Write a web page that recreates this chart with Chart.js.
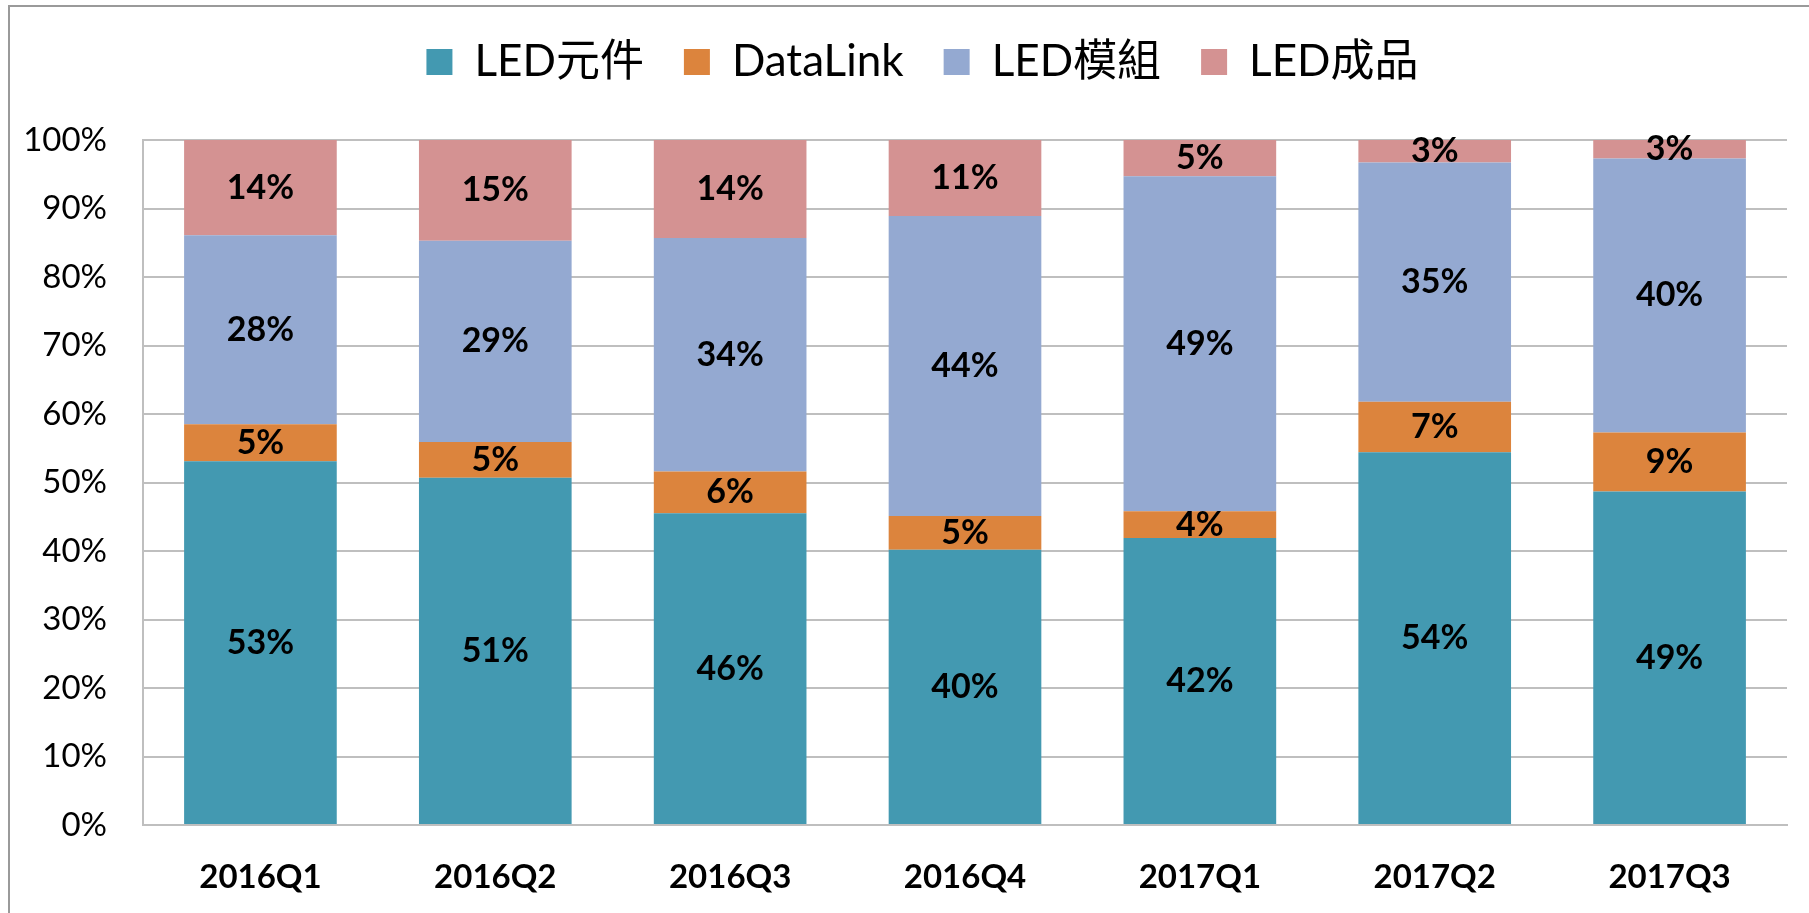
<!DOCTYPE html>
<html>
<head>
<meta charset="utf-8">
<script src="https://cdn.jsdelivr.net/npm/chart.js@4.4.1/dist/chart.umd.min.js"></script>
<style>
  body { margin: 0; background: #fff; }
  #wrap { position: relative; width: 1809px; height: 913px; }
  #frame { position: absolute; left: 8px; top: 5px; right: -10px; bottom: -10px;
           border-left: 2px solid #9a9a9a; border-top: 2px solid #9a9a9a; pointer-events: none; }
</style>
</head>
<body>
<div id="wrap">
  <canvas id="myChart" width="1809" height="913"></canvas>
  <div id="frame"></div>
</div>
<script>
// 季度
var quarters = ['2016Q1', '2016Q2', '2016Q3', '2016Q4', '2017Q1', '2017Q2', '2017Q3'];
// 各產品線佔比 (%)
var ledComponent = [53.1, 50.7, 45.5, 40.2, 41.9, 54.4, 48.7];
var dataLink     = [5.4, 5.2, 6.1, 4.9, 3.9, 7.4, 8.6];
var ledModule    = [27.6, 29.4, 34.1, 43.8, 48.9, 34.9, 40.0];
var ledProduct   = [13.9, 14.7, 14.3, 11.1, 5.3, 3.3, 2.7];
var yTicks = [0, 10, 20, 30, 40, 50, 60, 70, 80, 90, 100];

var fontFamily = 'Lato, "Noto Sans CJK TC", sans-serif';

// 在每個區塊中間畫百分比
var barLabels = {
    id: 'barLabels',
    afterDatasetsDraw: function(chart) {
        var ctx = chart.ctx;
        ctx.save();
        ctx.font = 'bold 34px ' + fontFamily;
        ctx.fillStyle = '#000';
        ctx.textAlign = 'center';
        ctx.textBaseline = 'middle';
        chart.data.datasets.forEach(function(ds, i) {
            var meta = chart.getDatasetMeta(i);
            meta.data.forEach(function(el, j) {
                var p = el.getProps(['x', 'y', 'base'], true);
                ctx.fillText(Math.round(ds.data[j]) + '%', p.x, (p.y + p.base) / 2);
            });
        });
        ctx.restore();
    }
};

// 圖例下方多留一點空白，並稍微往右移
var legendGap = {
    id: 'legendGap',
    beforeInit: function(chart) {
        var legend = chart.legend;
        var fit = legend.fit;
        legend.fit = function() {
            fit.bind(legend)();
            this.height += 46;
        };
        var draw = legend.draw;
        legend.draw = function() {
            chart.ctx.save();
            chart.ctx.translate(16, 0);
            draw.apply(legend, arguments);
            chart.ctx.restore();
        };
    }
};

document.addEventListener('DOMContentLoaded', function() {
    var ctx = document.getElementById('myChart').getContext('2d');
    new Chart(ctx, {
        type: 'bar',
        data: {
            labels: quarters,
            datasets: [
                { label: 'LED元件', data: ledComponent, backgroundColor: '#4399B1' },
                { label: 'DataLink', data: dataLink, backgroundColor: '#DC843D' },
                { label: 'LED模組', data: ledModule, backgroundColor: '#94A9D1' },
                { label: 'LED成品', data: ledProduct, backgroundColor: '#D49292' }
            ]
        },
        options: {
            responsive: false,
            animation: false,
            layout: { padding: { left: 26, right: 22, top: 0, bottom: 0 } },
            datasets: { bar: { barPercentage: 0.65, categoryPercentage: 1.0 } },
            plugins: {
                tooltip: { enabled: false },
                legend: {
                    position: 'top',
                    labels: {
                        boxWidth: 26,
                        boxHeight: 26,
                        padding: 40,
                        color: '#000',
                        font: { family: fontFamily, size: 44 }
                    }
                }
            },
            scales: {
                x: {
                    stacked: true,
                    grid: { display: false, drawTicks: false },
                    border: { display: true, color: '#BFBFBF', width: 2 },
                    ticks: { color: '#000', padding: 33, font: { family: fontFamily, size: 33, weight: 'bold' } },
                    afterFit: function(axis) { axis.height = 88; }
                },
                y: {
                    stacked: true,
                    min: 0,
                    max: 100,
                    afterBuildTicks: function(axis) {
                        axis.ticks = yTicks.map(function(v) { return { value: v }; });
                    },
                    afterFit: function(axis) { axis.width = 117; },
                    grid: { color: '#BFBFBF', lineWidth: 2, drawTicks: false },
                    border: { display: true, color: '#BFBFBF', width: 2 },
                    ticks: {
                        color: '#000',
                        padding: 36,
                        font: { family: fontFamily, size: 33 },
                        callback: function(v) { return v + '%'; }
                    }
                }
            }
        },
        plugins: [barLabels, legendGap]
    });
});
</script>
</body>
</html>
